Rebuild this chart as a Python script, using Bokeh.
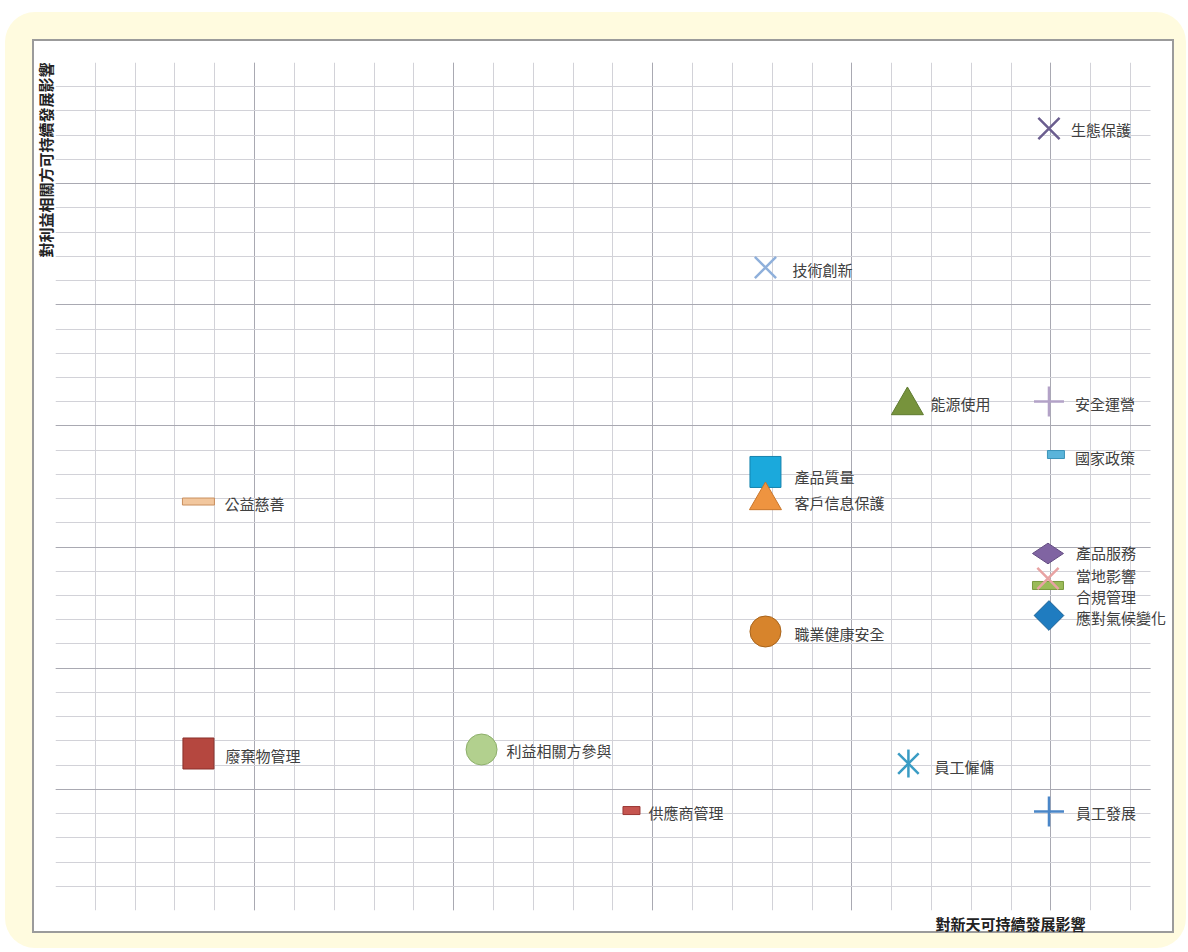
import math
from bokeh.plotting import figure
from bokeh.models import FixedTicker, Title, ColumnDataSource, Grid
from bokeh.layouts import column
from bokeh.embed import file_html
from bokeh.resources import INLINE
from bokeh.core.properties import value

# ---- data (x: impact on company sustainability, y: impact on stakeholders) ----
topics = ["生態保護", "技術創新", "能源使用", "安全運營", "國家政策", "產品質量",
          "客戶信息保護", "公益慈善", "產品服務", "合規管理", "當地影響", "應對氣候變化",
          "職業健康安全", "廢棄物管理", "利益相關方參與", "員工僱傭", "供應商管理", "員工發展"]
impact_company = [4.99, 3.566, 4.279, 4.99, 5.025, 3.566,
                  3.566, 0.718, 4.985, 4.985, 4.985, 4.99,
                  3.566, 0.718, 2.140, 4.284, 2.893, 4.99]
impact_stakeholder = [6.455, 5.308, 4.169, 4.202, 3.764, 3.620,
                      3.385, 3.376, 2.947, 2.683, 2.741, 2.435,
                      2.303, 1.296, 1.329, 1.213, 0.825, 0.817]

# ---- styles ----
marker_kind = ["x", "x", "triangle", "cross", "bar", "square",
               "triangle", "bar", "wide_diamond", "bar", "x", "diamond",
               "circle", "square", "circle", "asterisk", "bar", "cross"]
fill_colors = ["#6B5E8F", "#8FB0DB", "#77933C", "#B3A2C7", "#5AB4DA", "#1BA9DC",
               "#EE9440", "#F2C79E", "#8064A2", "#9BBB59", "#E8A3A3", "#1F7CC0",
               "#D7842C", "#B5473F", "#B2D08E", "#3A9CC4", "#C65550", "#4A86C8"]
line_colors = ["#6B5E8F", "#8FB0DB", "#5E7A2E", "#B3A2C7", "#3A93B8", "#1583AD",
               "#C8752A", "#C98F5E", "#634C82", "#7A9A3E", "#E8A3A3", "#185F94",
               "#A8641C", "#8A302B", "#8DAF6A", "#3A9CC4", "#9A3733", "#4A86C8"]
marker_w = [30, 30, 32, 30, 17, 31, 32, 32, 31, 31, 30, 21, 31, 31, 31, 29, 17, 30]
marker_h = [30, 30, 32, 30, 8, 31, 32, 7, 31, 8, 30, 21, 31, 31, 31, 28, 8, 30]
label_dx = [22, 27, 23, 26, 19, 29, 29, 26, 28, 28, 28, 27, 29, 27, 25, 26, 17, 27]
label_dy = [1, 2, -2, 2, 3, 5, 2, 2, -1, 11, -3, 2, 2, 2, 1, 3, 2, 1]

x_label = "對新天可持續發展影響"
y_label = "對利益相關方可持續發展影響"

x_end = 5.5
y_end = 7
x_major = [0, 1, 2, 3, 4, 5]
y_major = [0, 1, 2, 3, 4, 5, 6, 7]
x_minor = [i / 5 for i in range(0, 28)]
y_minor = [i / 5 for i in range(0, 36)]

p = figure(width=1142, height=894, x_range=(0, 5.6004), y_range=(0, y_end),
           output_backend="svg", toolbar_location=None,
           min_border_left=23, min_border_right=4, min_border_top=23, min_border_bottom=23,
           border_fill_color="white", border_fill_alpha=0, background_fill_color="white",
           outline_line_color=None,
           styles={"background-color": "white", "box-shadow": "inset 0 0 0 2px #9b9b9b"})

p.xaxis.visible = False
p.yaxis.visible = False
xt = FixedTicker(ticks=x_major, minor_ticks=x_minor)
yt = FixedTicker(ticks=y_major, minor_ticks=y_minor)
p.xaxis.ticker = xt
p.yaxis.ticker = yt
p.xgrid.ticker = xt
p.ygrid.ticker = yt
p.ygrid.cross_bounds = (0, x_end)
for g in (p.xgrid, p.ygrid):
    g.grid_line_color = "#a9a9b2"
    g.grid_line_width = 1
    g.minor_grid_line_color = "#d2d2d8"
    g.minor_grid_line_width = 1

base = Grid(dimension=1, ticker=FixedTicker(ticks=[0]), cross_bounds=(0, x_end),
            grid_line_color="#8a8a8a", grid_line_width=1.5)
p.add_layout(base)

for i, t in enumerate(topics):
    kind = marker_kind[i]
    xs, ys = [impact_company[i]], [impact_stakeholder[i]]
    fc, lc = fill_colors[i], line_colors[i]
    if kind in ("x", "cross"):
        p.scatter(xs, ys, marker=kind, size=marker_w[i], line_color=lc, line_width=2.5)
    elif kind == "asterisk":
        p.scatter(xs, ys, marker="x", size=marker_w[i], line_color=lc, line_width=2.5)
        p.scatter(xs, ys, marker="dash", angle=math.pi / 2, size=marker_h[i], line_color=lc, line_width=2.5)
    elif kind == "bar":
        p.rect(xs, ys, width=marker_w[i], height=marker_h[i], width_units="screen",
               height_units="screen", fill_color=fc, line_color=lc, line_width=1)
    elif kind == "wide_diamond":
        p.scatter(xs, ys, marker="diamond", angle=math.pi / 2, size=marker_w[i],
                  fill_color=fc, line_color=lc, line_width=1)
    elif kind == "diamond":
        p.scatter(xs, ys, marker="square", angle=math.pi / 4, size=marker_w[i],
                  fill_color=fc, line_color=lc, line_width=1)
    else:
        p.scatter(xs, ys, marker=kind, size=marker_w[i], fill_color=fc, line_color=lc, line_width=1)

src = ColumnDataSource(dict(x=impact_company, y=impact_stakeholder, t=topics,
                            dx=label_dx, dy=label_dy))
p.text(x="x", y="y", text="t", x_offset="dx", y_offset="dy", source=src,
       text_font=value("Noto Sans CJK TC"), text_font_size="15px",
       text_color="#404040", text_baseline="middle", text_align="left")

p.add_layout(Title(text=y_label, align="right", text_font="Noto Sans CJK TC",
                   text_font_size="15px", text_font_style="bold", text_color="#222222",
                   text_line_height=1.0, standoff=0, offset=0), "left")
p.add_layout(Title(text=x_label, align="left", offset=880, text_font="Noto Sans CJK TC",
                   text_font_size="15px", text_font_style="bold", text_color="#222222",
                   text_line_height=1.0, standoff=0), "below")

page = column(p, styles={"background-color": "#FFFBDF", "border-radius": "30px",
                         "padding": "27px 12px 15px 27px", "margin-top": "12px",
                         "margin-left": "5px"})

open("out.html", "w").write(file_html(page, INLINE))
